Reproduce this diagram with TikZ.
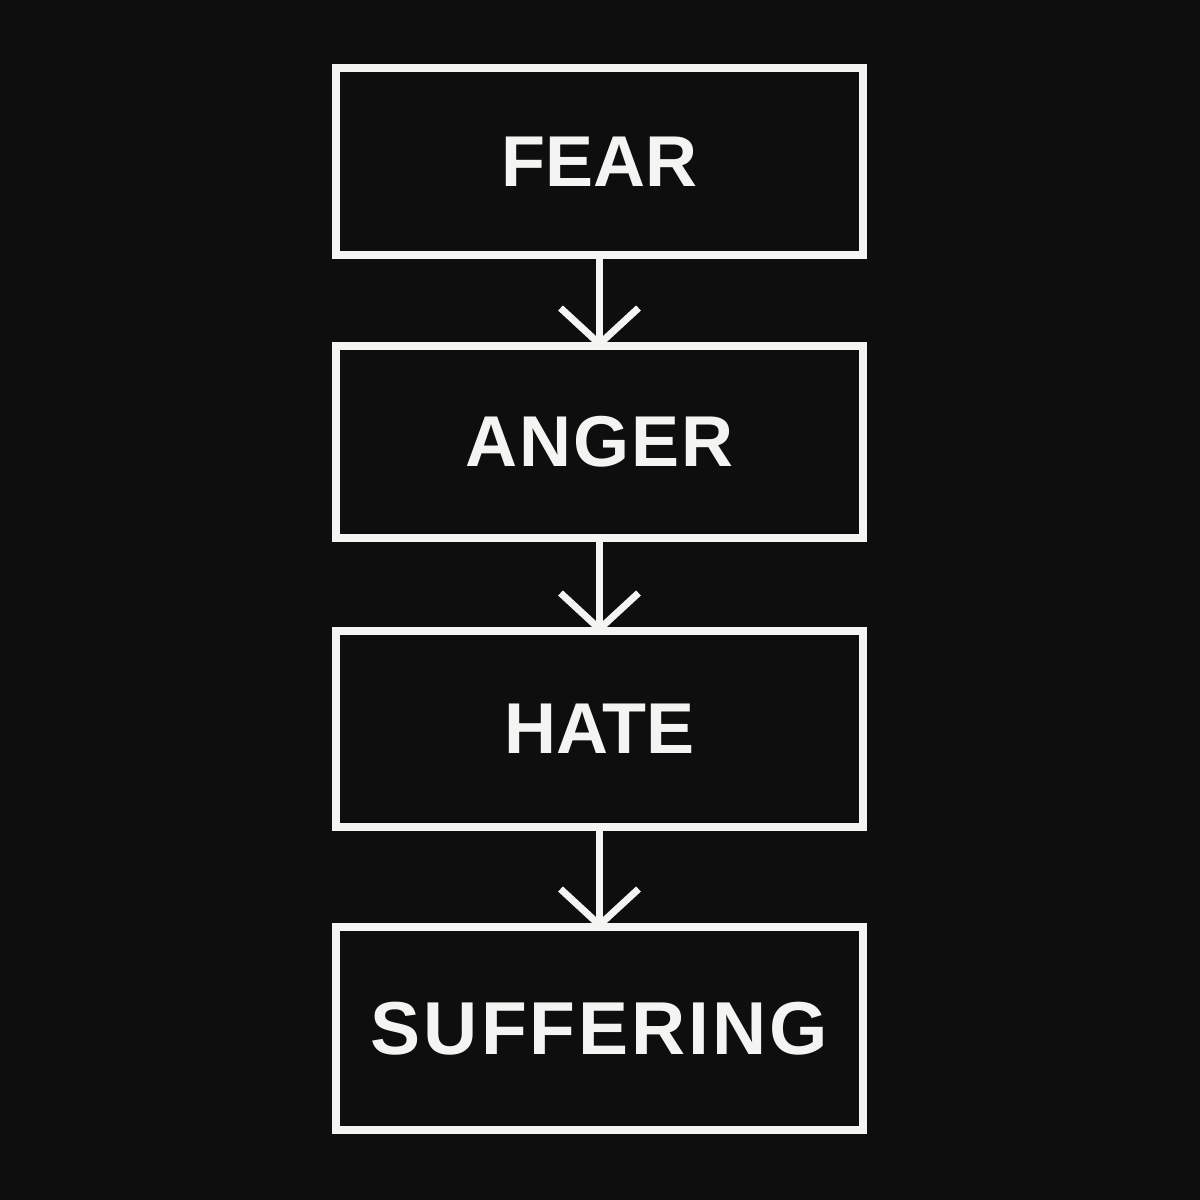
\documentclass[tikz,border=0pt]{standalone}
\usepackage{fontspec}
\setmainfont{Liberation Sans}
\usetikzlibrary{calc}
\definecolor{shirt}{HTML}{0E0E0E}
\definecolor{ink}{HTML}{F4F4F2}
\tikzset{
  flowbox/.style={draw=ink, line width=8pt, inner sep=0pt, outer sep=0pt,
    minimum width=527pt, text=ink, font=\bfseries\fontsize{72}{80}\selectfont},
  flowline/.style={draw=ink, line width=7pt},
  barb/.style={draw=ink, line width=7pt, line cap=butt, line join=miter}
}
\begin{document}
\begin{tikzpicture}[x=1pt,y=-1pt]
\fill[shirt] (0,0) rectangle (1200,1200);
\useasboundingbox (0,0) rectangle (1200,1200);
\node[flowbox, minimum height=187pt] (fear) at (599.5,161.5) {FEAR};
\node[flowbox, minimum height=192pt] (anger) at (599.5,442) {\addfontfeature{LetterSpace=2.5}ANGER};
\node[flowbox, minimum height=196pt] (hate) at (599.5,729) {HATE};
\node[flowbox, minimum height=203pt, font=\bfseries\fontsize{75}{82}\selectfont] (suff) at (599.5,1028.5) {\addfontfeature{LetterSpace=4}SUFFERING};
\foreach \a/\b in {fear/anger, anger/hate, hate/suff}{
  \draw[flowline] (\a.south) -- (\b.north);
  \draw[barb] ($(\b.north)+(-39,-38)$) -- ($(\b.north)+(0,-2)$) -- ($(\b.north)+(39,-38)$);
}
\end{tikzpicture}
\end{document}
